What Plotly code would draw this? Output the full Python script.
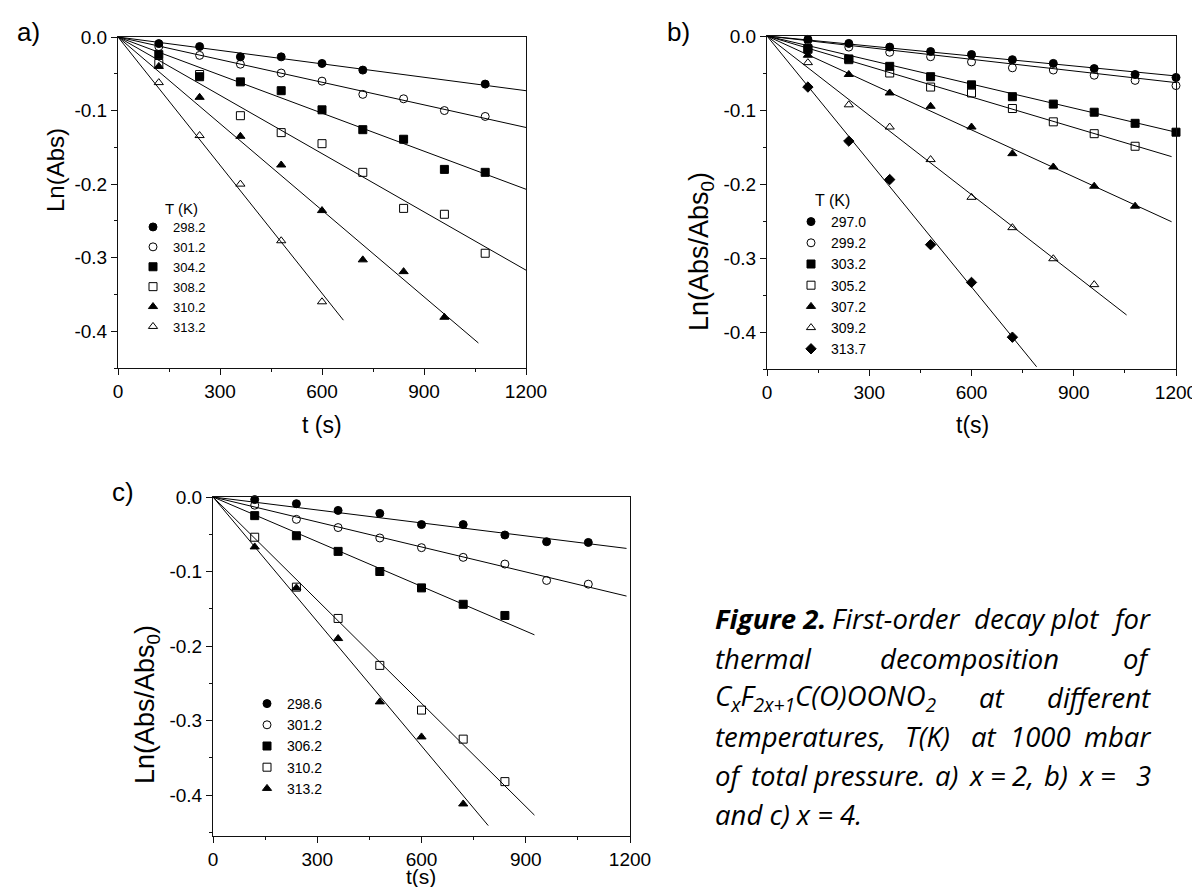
import plotly.graph_objects as go

# ---------------- data ----------------
# Panel a) x = 2
a_temps = ["298.2", "301.2", "304.2", "308.2", "310.2", "313.2"]
a_t_2982 = [120, 240, 360, 480, 600, 720, 1080]
a_y_2982 = [-0.009, -0.013, -0.027, -0.027, -0.036, -0.045, -0.064]
a_t_3012 = [120, 240, 360, 480, 600, 720, 840, 960, 1080]
a_y_3012 = [-0.013, -0.025, -0.037, -0.049, -0.060, -0.078, -0.084, -0.100, -0.108]
a_t_3042 = [120, 240, 360, 480, 600, 720, 840, 960, 1080]
a_y_3042 = [-0.024, -0.054, -0.061, -0.073, -0.099, -0.126, -0.139, -0.180, -0.184]
a_t_3082 = [120, 240, 360, 480, 600, 720, 840, 960, 1080]
a_y_3082 = [-0.036, -0.051, -0.107, -0.130, -0.145, -0.184, -0.233, -0.241, -0.294]
a_t_3102 = [120, 240, 360, 480, 600, 720, 840, 960]
a_y_3102 = [-0.040, -0.082, -0.135, -0.174, -0.236, -0.303, -0.319, -0.381]
a_t_3132 = [120, 240, 360, 480, 600]
a_y_3132 = [-0.062, -0.134, -0.200, -0.277, -0.360]
a_fit_end_t = [1200, 1200, 1200, 1200, 1060, 663]
a_fit_end_y = [-0.073, -0.123, -0.207, -0.317, -0.416, -0.385]

# Panel b) x = 3
b_temps = ["297.0", "299.2", "303.2", "305.2", "307.2", "309.2", "313.7"]
b_t_2970 = [120, 240, 360, 480, 600, 720, 840, 960, 1080, 1200]
b_y_2970 = [-0.0045, -0.010, -0.015, -0.021, -0.025, -0.032, -0.037, -0.044, -0.052, -0.056]
b_t_2992 = [120, 240, 360, 480, 600, 720, 840, 960, 1080, 1200]
b_y_2992 = [-0.006, -0.015, -0.022, -0.028, -0.035, -0.043, -0.046, -0.053, -0.060, -0.067]
b_t_3032 = [120, 240, 360, 480, 600, 720, 840, 960, 1080, 1200]
b_y_3032 = [-0.017, -0.031, -0.041, -0.055, -0.066, -0.082, -0.092, -0.103, -0.118, -0.130]
b_t_3052 = [120, 240, 360, 480, 600, 720, 840, 960, 1080]
b_y_3052 = [-0.018, -0.032, -0.050, -0.069, -0.077, -0.098, -0.116, -0.132, -0.149]
b_t_3072 = [120, 240, 360, 480, 600, 720, 840, 960, 1080]
b_y_3072 = [-0.026, -0.052, -0.077, -0.095, -0.123, -0.159, -0.177, -0.203, -0.230]
b_t_3092 = [120, 240, 360, 480, 600, 720, 840, 960]
b_y_3092 = [-0.036, -0.093, -0.123, -0.167, -0.218, -0.259, -0.301, -0.336]
b_t_3137 = [120, 240, 360, 480, 600, 720]
b_y_3137 = [-0.069, -0.142, -0.194, -0.282, -0.333, -0.407]
b_fit_end_t = [1200, 1200, 1200, 1187, 1187, 1055, 791]
b_fit_end_y = [-0.054, -0.063, -0.130, -0.163, -0.251, -0.377, -0.447]

# Panel c) x = 4
c_temps = ["298.6", "301.2", "306.2", "310.2", "313.2"]
c_t_2986 = [120, 240, 360, 480, 600, 720, 840, 960, 1080]
c_y_2986 = [-0.0035, -0.009, -0.018, -0.022, -0.037, -0.037, -0.051, -0.060, -0.061]
c_t_3012 = [120, 240, 360, 480, 600, 720, 840, 960, 1080]
c_y_3012 = [-0.011, -0.030, -0.041, -0.055, -0.068, -0.081, -0.090, -0.112, -0.117]
c_t_3062 = [120, 240, 360, 480, 600, 720, 840]
c_y_3062 = [-0.025, -0.052, -0.073, -0.100, -0.122, -0.144, -0.159]
c_t_3102 = [120, 240, 360, 480, 600, 720, 840]
c_y_3102 = [-0.054, -0.121, -0.163, -0.226, -0.286, -0.325, -0.382]
c_t_3132 = [120, 240, 360, 480, 600, 720]
c_y_3132 = [-0.067, -0.122, -0.190, -0.275, -0.322, -0.412]
c_fit_end_t = [1190, 1190, 925, 925, 792]
c_fit_end_y = [-0.069, -0.133, -0.185, -0.427, -0.441]

x_tick_vals = [0, 300, 600, 900, 1200]
x_tick_text = ["0", "300", "600", "900", "1200"]
y_tick_vals = [0.0, -0.1, -0.2, -0.3, -0.4]
y_tick_text = ["0.0", "-0.1", "-0.2", "-0.3", "-0.4"]

# ---------------- layout helpers ----------------
# The page body has an 8 px margin, so the figure is made 16 px smaller than
# the window and every position below is given in window pixels.
OFF = 8
W, H = 1200 - 2 * OFF, 895 - 2 * OFF


def fx(p):
    return (p - OFF) / W


def fy(p):
    return 1 - (p - OFF) / H


FONT = "Arial, Liberation Sans, sans-serif"
fig = go.Figure()

panels = [
    ("", "legend",
     [(a_t_2982, a_y_2982, "circle"), (a_t_3012, a_y_3012, "circle-open"),
      (a_t_3042, a_y_3042, "square"), (a_t_3082, a_y_3082, "square-open"),
      (a_t_3102, a_y_3102, "triangle-up"), (a_t_3132, a_y_3132, "triangle-up-open")],
     a_fit_end_t, a_fit_end_y, a_temps),
    ("2", "legend2",
     [(b_t_2970, b_y_2970, "circle"), (b_t_2992, b_y_2992, "circle-open"),
      (b_t_3032, b_y_3032, "square"), (b_t_3052, b_y_3052, "square-open"),
      (b_t_3072, b_y_3072, "triangle-up"), (b_t_3092, b_y_3092, "triangle-up-open"),
      (b_t_3137, b_y_3137, "diamond")],
     b_fit_end_t, b_fit_end_y, b_temps),
    ("3", "legend3",
     [(c_t_2986, c_y_2986, "circle"), (c_t_3012, c_y_3012, "circle-open"),
      (c_t_3062, c_y_3062, "square"), (c_t_3102, c_y_3102, "square-open"),
      (c_t_3132, c_y_3132, "triangle-up")],
     c_fit_end_t, c_fit_end_y, c_temps),
]

for suf, leg, series, et, ey, temps in panels:
    xa, ya = "x" + suf, "y" + suf
    for (tt, yy, sym), t_end, y_end, name in zip(series, et, ey, temps):
        fig.add_trace(go.Scatter(
            x=[0, t_end], y=[0, y_end], mode="lines", xaxis=xa, yaxis=ya,
            line=dict(color="black", width=1), showlegend=False, hoverinfo="skip"))
    for (tt, yy, sym), name in zip(series, temps):
        fig.add_trace(go.Scatter(
            x=tt, y=yy, mode="markers", xaxis=xa, yaxis=ya, name=name, legend=leg,
            cliponaxis=False,
            marker=dict(symbol=sym, size=8, color="black",
                        line=dict(color="black", width=1))))


def axis_common():
    return dict(showline=True, linecolor="#111", linewidth=1, mirror=True,
                ticks="outside", ticklen=6, tickwidth=1, tickcolor="#111",
                showgrid=False, zeroline=False, ticklabeloverflow="allow",
                tickfont=dict(family=FONT, size=19, color="black"))


boxes = {
    "": (118, 526, 37, 368, [-0.45, 0]),
    "2": (767, 1176, 36, 369, [-0.45, 0]),
    "3": (213, 630, 497, 836, [-0.455, 0]),
}
lay = {}
for suf, (l, r, t, b, yr) in boxes.items():
    xax = axis_common()
    xax.update(domain=[fx(l), fx(r)], range=[0, 1200], tickmode="array",
               tickvals=x_tick_vals, ticktext=x_tick_text,
               anchor="y" + suf,
               minor=dict(tickmode="linear", tick0=0, dtick=150, ticks="outside",
                          ticklen=3, tickwidth=1, tickcolor="#111"))
    yax = axis_common()
    yax.update(domain=[fy(b), fy(t)], range=yr, tickmode="array",
               tickvals=y_tick_vals, ticktext=y_tick_text,
               anchor="x" + suf,
               minor=dict(tickmode="linear", tick0=0, dtick=0.05, ticks="outside",
                          ticklen=3, tickwidth=1, tickcolor="#111"))
    lay["xaxis" + suf] = xax
    lay["yaxis" + suf] = yax

fig.update_layout(**lay)


def legend_at(xpx, ypx, size):
    return dict(x=fx(xpx), y=fy(ypx), xanchor="left", yanchor="top",
                xref="paper", yref="paper",
                bgcolor="rgba(0,0,0,0)", borderwidth=0,
                font=dict(family=FONT, size=size, color="black"),
                itemwidth=30, tracegroupgap=0, itemclick=False)


fig.update_layout(
    width=W, height=H, margin=dict(l=0, r=0, t=0, b=0, autoexpand=False),
    paper_bgcolor="white", plot_bgcolor="white",
    showlegend=True,
    legend=legend_at(133, 212, 13),
    legend2=legend_at(791, 206, 14),
    legend3=legend_at(247, 688, 14),
)

ann = []


def text(x, y, s, size, xanchor="center", angle=0, family=FONT):
    ann.append(dict(x=fx(x), y=fy(y), xref="paper", yref="paper", text=s,
                    showarrow=False, xanchor=xanchor, yanchor="middle",
                    textangle=angle,
                    font=dict(family=family, size=size, color="black")))


# panel labels
text(28, 32, "a)", 26)
text(678, 32, "b)", 26)
text(123, 492, "c)", 26)
# axis titles
text(322, 425, "t (s)", 23)
text(972, 425, "t(s)", 23)
text(421, 876, "t(s)", 21)
text(56, 170, "Ln(Abs)", 24, angle=-90)
text(701, 252, "Ln(Abs/Abs<sub>0</sub>)", 27, angle=-90)
text(147, 705, "Ln(Abs/Abs<sub>0</sub>)", 27, angle=-90)
# legend titles
text(163, 208, "T (K)", 15, xanchor="left")
text(813, 200, "T (K)", 16, xanchor="left")

# caption, laid out word by word to reproduce the justified paragraph
CF = "Open Sans, Lato, sans-serif"
CS = 27.5
L, R = 713, 1153


def cap(x, y, s, anchor="center"):
    text(x, y, s, CS, anchor, family=CF)


cap(L, 618, "<b><i>Figure 2.</i></b>", "left")
cap(896, 618, "<i>First-order</i>")
cap(1010, 618, "<i>decay</i>")
cap(1074, 618, "<i>plot</i>")
cap(R, 618, "<i>for</i>", "right")

cap(L, 658, "<i>thermal</i>", "left")
cap(969, 658, "<i>decomposition</i>")
cap(R, 658, "<i>of</i>", "right")

cap(L, 697, "<i>C<sub>x</sub>F<sub>2x+1</sub>C(O)OONO<sub>2</sub></i>", "left")
cap(992, 697, "<i>at</i>")
cap(R, 697, "<i>different</i>", "right")

cap(L, 736, "<i>temperatures,</i>", "left")
cap(928, 736, "<i>T(K)</i>")
cap(984, 736, "<i>at</i>")
cap(1040, 736, "<i>1000</i>")
cap(R, 736, "<i>mbar</i>", "right")

cap(L, 775, "<i>of</i>", "left")
cap(780, 775, "<i>total</i>")
cap(869, 775, "<i>pressure.</i>")
cap(946, 775, "<i>a)</i>")
cap(976, 775, "<i>x</i>")
cap(998, 775, "<i>=</i>")
cap(1023, 775, "<i>2,</i>")
cap(1056, 775, "<i>b)</i>")
cap(1086, 775, "<i>x</i>")
cap(1108, 775, "<i>=</i>")
cap(R, 775, "<i>3</i>", "right")

cap(L, 814, "<i>and c) x = 4.</i>", "left")

fig.update_layout(annotations=ann)
fig.write_html("out.html")
